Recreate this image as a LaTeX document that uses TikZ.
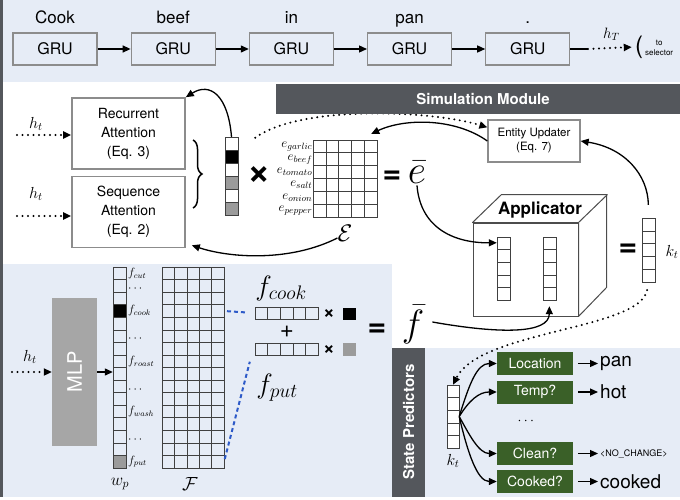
\RequirePackage{fix-cm}
\documentclass[tikz,border=0pt]{standalone}
\usepackage{amsmath,amssymb}
\usepackage{fontspec}
\setmainfont{TeX Gyre Heros}
\usetikzlibrary{positioning,arrows.meta,decorations.pathreplacing}

\definecolor{panelblue}{RGB}{230,236,246}
\definecolor{bardark}{RGB}{84,87,92}
\definecolor{mlpgray}{RGB}{166,166,166}
\definecolor{cellgray}{RGB}{155,155,155}
\definecolor{predgreen}{RGB}{58,96,40}
\definecolor{linkblue}{RGB}{45,90,200}

\newcommand{\fsz}[2]{\fontsize{#1}{#2}\selectfont}

\begin{document}
\begin{tikzpicture}[x=1pt, y=-1pt,
	arr/.style={-{Triangle[length=8pt,width=7pt]}, line width=1.3pt},
	dotarr/.style={-{Triangle[length=8pt,width=7pt]}, line width=2.2pt, dash pattern=on 0pt off 5.5pt, line cap=round},
	linkdash/.style={draw=linkblue, line width=2pt, dash pattern=on 4pt off 3pt},
	gru/.style={draw=black!45, line width=1.2pt, minimum width=84, minimum height=32, font=\fsz{16}{16}},
	word/.style={font=\fsz{17}{17}, inner sep=0pt, text depth=0pt},
	attbox/.style={draw=black!45, fill=white, line width=1.6pt, minimum width=113, minimum height=71, align=center, font=\fsz{14}{19}},
	updbox/.style={draw=black!45, fill=white, line width=1.3pt, minimum width=92, minimum height=42, align=center, font=\fsz{11.5}{14}},
	pred/.style={fill=predgreen, text=white, minimum width=76, minimum height=23, inner sep=0pt, font=\fsz{14}{14}},
	outcome/.style={anchor=west, inner sep=0pt, font=\fsz{19}{19}},
	cell/.style={draw=black!75, line width=0.6pt},
	vecbox/.style={inner sep=0pt, minimum width=13},
	bigsym/.style={font=\bfseries\fsz{32}{32}, inner sep=0pt},
	mathlab/.style={font=\fsz{16}{16}, inner sep=1pt},
	]
	\useasboundingbox (0,0) rectangle (680,500);
	
	% panels
	\fill[panelblue] (0,0) rectangle (680,82);
	\fill[panelblue] (0,264) rectangle (392,497);
	\fill[panelblue] (392,348) rectangle (680,497);
	\fill[bardark] (0,0) rectangle (2.5,497);
	\fill[bardark] (392,348) rectangle (425,497);
	\node[rotate=90, text=white, font=\bfseries\fsz{15}{15}] (splab) at (408.5,422) {State Predictors};
	
	% encoder
	\node[gru] (g1) at (55,49) {GRU};
	\node[gru, right=33pt of g1] (g2) {GRU};
	\node[gru, right=33pt of g2] (g3) {GRU};
	\node[gru, right=33pt of g3] (g4) {GRU};
	\node[gru, right=33pt of g4] (g5) {GRU};
	\foreach \a/\b in {g1/g2,g2/g3,g3/g4,g4/g5}
		\draw[arr] (\a) -- (\b);
	
	\node[word, above=9pt of g1] (w1) {Cook};
	\node[word, above=9pt of g2] (w2) {beef};
	\node[word, above=9pt of g3] (w3) {in};
	\node[word, above=9pt of g4] (w4) {pan};
	\node[word, above=9pt of g5] (w5) {.};
	
	\coordinate (hTmid) at (588,49);
	\node[font=\fsz{24}{24}, inner sep=0pt] (paren) at (639,47) {(};
	\node[align=center, font=\fsz{8}{9.5}, inner sep=0pt, anchor=west] (sel) at (645,48) {to\\selector};
	\draw[line width=1.3pt] (g5) -- (hTmid);
	\draw[dotarr, shorten >=3pt] (hTmid) -- (paren.west) node[midway, above=3pt, font=\fsz{15}{15}] {$h_T$};
	
	% attention
	\node[attbox] (rec) at (128.5,133.5) {Recurrent\\Attention\\(Eq. 3)};
	\node[attbox] (seq) at (128.5,212) {Sequence\\Attention\\(Eq. 2)};
	\node[mathlab] (ht1) at (36,124) {$h_t$};
	\node[mathlab] (ht2) at (36,194) {$h_t$};
	\coordinate (in1) at (17,135);
	\coordinate (in2) at (17,216);
	\draw[dotarr] (in1) -- (in1 -| rec.west);
	\draw[dotarr] (in2) -- (in2 -| seq.west);
	\draw[decorate, decoration={brace, amplitude=9pt}, line width=1.5pt] (193,140) -- (193,208);
	
	\node[vecbox, minimum height=78] (attv) at (231.5,176) {};
	\foreach \c [count=\i from 0] in {white,black,white,cellgray,white,cellgray}
		\filldraw[cell, fill=\c] (225,137+13*\i) rectangle ++(13,13);
	\node[bigsym, font=\bfseries\fsz{40}{40}] (x1) at (259,176) {×};
	
	% entity matrix
	\node[vecbox, minimum width=64, minimum height=77] (emat) at (345,178.5) {};
	\foreach \i in {0,...,5}
		\foreach \j in {0,...,4}
			\draw[cell, fill=white] (313+12.8*\j,140+12.8*\i) rectangle ++(12.8,12.8);
	\foreach \lab [count=\i from 0] in {garlic,beef,tomato,salt,onion,pepper}
		\node[anchor=east, inner sep=0.5pt, font=\fsz{13}{13}] at (313,146.4+12.8*\i) {$e_{\lab}$};
	\node[font=\fsz{24}{24}, inner sep=0pt] (escr) at (345,233) {$\mathcal{E}$};
	\node[bigsym] (eq1) at (392,177) {=};
	\node[font=\fsz{40}{40}, inner sep=0pt] (ebar) at (417,172) {$\bar{e}$};
	
	% simulation module
	\node[updbox] (upd) at (534,141) {Entity Updater\\(Eq. 7)};
	\draw[dotarr] ([xshift=17pt,yshift=-1pt]attv.north east) .. controls (300,105) and (430,110) .. ([yshift=-8pt]upd.north west);
	\fill[bardark] (276,84) rectangle (680,114);
	\node[text=white, font=\bfseries\fsz{15}{15}] (simlab) at (483,99) {Simulation Module};
	
	\node[draw=black!70, line width=1pt, fill=white, minimum width=105, minimum height=93, inner sep=0pt] (cube) at (525.5,269.5) {};
	\draw[black!70, line width=1pt, fill=white, line join=round] (cube.north west) -- ++(29,-28) -- ++(105,0) -- ++(0,93) -- (cube.south east) -- (cube.north east) -- cycle;
	\draw[black!70, line width=1pt] (cube.north east) -- ++(29,-28);
	\node[font=\bfseries\fsz{17}{17}] (applab) at (540,210) {Applicator};
	
	\foreach \vx/\vn in {497/av1,543/av2} {
		\node[vecbox, minimum height=63] (\vn) at (\vx+6.5,268.5) {};
		\foreach \i in {0,...,4}
			\draw[cell, fill=white] (\vx,237+12.6*\i) rectangle ++(13,12.6);
	}
	
	\node[bigsym] (eq2) at (628,250) {=};
	\node[vecbox, minimum height=64] (kvec) at (648.5,250) {};
	\foreach \i in {0,...,4}
		\draw[cell, fill=white] (642,218+12.8*\i) rectangle ++(13,12.8);
	\node[mathlab] (ktlab) at (672,252) {$k_t$};
	
	\draw[arr] (attv.north) .. controls (228,95) and (210,82) .. (rec.north east);
	\draw[arr] ([yshift=-5pt]escr.west) .. controls (290,262) and (230,258) .. ([xshift=6pt,yshift=3pt]seq.south east);
	\draw[arr] (upd.west) .. controls (455,118) and (405,118) .. ([shift={(-6,-6)}]emat.north east);
	\draw[arr, shorten <=13pt] (kvec.north) .. controls (648,175) and (625,148) .. (upd.east);
	\draw[arr] ([yshift=-2pt]ebar.south) .. controls (420,225) and (450,243) .. ([yshift=-6pt]av1.north west);
	
	% action selector
	\node[fill=mlpgray, minimum width=45, minimum height=148, inner sep=0pt] (mlp) at (74.5,372) {};
	\node[rotate=90, text=white, font=\fsz{20}{20}] at (mlp) {MLP};
	\node[mathlab] (ht3) at (30,357) {$h_t$};
	\coordinate (in3) at (12,372);
	\draw[dotarr] (in3) -- (mlp.west);
	
	\node[vecbox, minimum height=201] (wp) at (119.5,367.5) {};
	\foreach \i in {0,...,15}
		\filldraw[cell, fill=panelblue] (113,267+12.56*\i) rectangle ++(13,12.56);
	\filldraw[cell, fill=black] (113,267+12.56*3) rectangle ++(13,12.56);
	\filldraw[cell, fill=cellgray] (113,267+12.56*15) rectangle ++(13,12.56);
	\draw[arr] (mlp.east) -- (mlp.east -| wp.west);
	\foreach \r/\lab in {0/cut,3/cook,7/roast,11/wash,15/put}
		\node[anchor=west, inner sep=0pt, font=\fsz{12}{12}] at (128,273.3+12.56*\r) {$f_{\lab}$};
	\foreach \r in {1,5,9,13}
		\node[anchor=west, inner sep=0pt, font=\fsz{12}{12}] at (128,276.5+12.56*\r) {$\cdots$};
	
	\node[vecbox, minimum width=62, minimum height=201] (fmat) at (193,367.5) {};
	\foreach \i in {0,...,15}
		\foreach \j in {0,...,4}
			\draw[cell, fill=panelblue] (162+12.4*\j,267+12.56*\i) rectangle ++(12.4,12.56);
	\node[font=\fsz{17}{17}] (wplab) at (120,484) {$w_p$};
	\node[font=\fsz{19}{19}] (fscr) at (190,484) {$\mathcal{F}$};
	
	\node[vecbox, minimum width=63, minimum height=12] (fcv) at (286.5,313) {};
	\node[vecbox, minimum width=63, minimum height=12] (fpv) at (286.5,349.5) {};
	\foreach \vy in {307,343.5}
		\foreach \j in {0,...,4}
			\draw[cell, fill=panelblue] (255+12.6*\j,\vy) rectangle ++(12.6,12);
	\coordinate (frow4) at (224,311);
	\coordinate (frow16) at (224,462);
	\draw[linkdash, shorten <=3pt, shorten >=7pt] (frow4) -- (fcv.west);
	\draw[linkdash, shorten <=3pt] (frow16) -- ([xshift=-5pt,yshift=-6pt]fpv.south west);
	
	\node[font=\fsz{28}{28}, inner sep=0pt] (fcooklab) at (281,288) {$f_{cook}$};
	\node[font=\fsz{28}{28}, inner sep=0pt] (fputlab) at (277,388) {$f_{put}$};
	\node[font=\fsz{24}{24}, inner sep=0pt] (plus) at (287,332) {+};
	\node[font=\bfseries\fsz{20}{20}, inner sep=0pt] (x2) at (329,314) {×};
	\node[font=\bfseries\fsz{20}{20}, inner sep=0pt] (x3) at (329,350) {×};
	\node[fill=black, minimum size=12.5, inner sep=0pt] (wcook) at (349.5,314) {};
	\node[fill=cellgray, minimum size=12.5, inner sep=0pt] (wput) at (349.5,349.5) {};
	\node[bigsym] (eq3) at (377,330) {=};
	\node[font=\fsz{38}{38}, inner sep=0pt] (fbar) at (413,325) {$\bar{f}$};
	\draw[arr, shorten >=6pt] ([xshift=8pt,yshift=3pt]fbar.east) .. controls (500,334) and (549,334) .. (av2.south);
	
	% state predictors
	\node[vecbox, minimum width=12, minimum height=63] (kt2) at (453,416.5) {};
	\foreach \i in {0,...,4}
		\draw[cell, fill=white] (447,385+12.6*\i) rectangle ++(12,12.6);
	\node[mathlab] (kt2lab) at (453,461) {$k_t$};
	\draw[dotarr, shorten <=8pt] (kvec.south) .. controls (640,330) and (480,330) .. (kt2.north);
	
	\node[pred] (loc) at (535,363.5) {Location};
	\node[pred] (temp) at (535,392) {Temp?};
	\node[font=\fsz{14}{14}] (pdots) at (527,421) {$\cdots$};
	\node[pred] (clean) at (535,453.5) {Clean?};
	\node[pred] (cooked) at (535,481.5) {Cooked?};
	
	\node[outcome] (pan) at (600,363.5) {pan};
	\node[outcome] (hot) at (600,392) {hot};
	\node[outcome, font=\fsz{9}{9}] (nochg) at (600,453.5) {<NO\_CHANGE>};
	\node[outcome] (ckd) at (600,481.5) {cooked};
	\foreach \a/\b in {loc/pan,temp/hot,clean/nochg,cooked/ckd}
		\draw[arr, line width=1.2pt] ([xshift=5pt]\a.east) -- ([xshift=-2pt]\b.west);
	
	\draw[arr] (kt2.east) .. controls +(10,-32) and +(-20,0) .. (loc.west);
	\draw[arr] (kt2.east) .. controls +(10,-16) and +(-18,0) .. (temp.west);
	\draw[arr] (kt2.east) .. controls +(10,18) and +(-18,0) .. (clean.west);
	\draw[arr] (kt2.east) .. controls +(8,34) and +(-20,0) .. (cooked.west);
\end{tikzpicture}
\end{document}
